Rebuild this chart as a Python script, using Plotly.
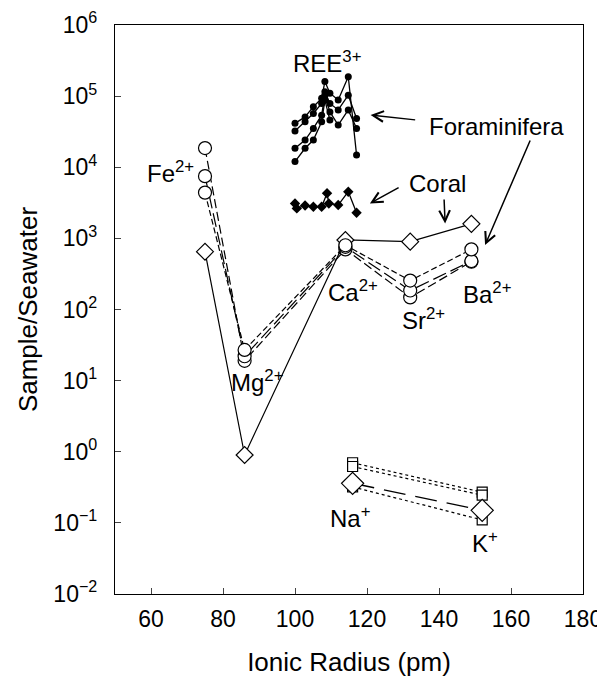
import math
import plotly.graph_objects as go

# ---------------- data ----------------
ion_x = {"Fe": 75, "Mg": 86, "Ca": 114, "Sr": 132, "Ba": 149, "Na": 116, "K": 152}

# Foraminifera (open circles), divalent cations Fe, Mg, Ca, Sr, Ba
div_ions = ["Fe", "Mg", "Ca", "Sr", "Ba"]
foram1 = [18600, 19, 700, 148, 470]
foram2 = [7500, 22, 760, 185, 480]
foram3 = [4400, 27, 800, 255, 700]
# Coral (open diamonds)
coral_div = [650, 0.9, 950, 900, 1600]

# Monovalent Na, K
mono_ions = ["Na", "K"]
foram_mono1 = [0.70, 0.27]
foram_mono2 = [0.62, 0.245]
foram_mono3 = [0.32, 0.11]
coral_mono = [0.36, 0.15]

# REE3+ (filled circles)
ree_x = [100.0, 102.8, 105.1, 107.4, 108.3, 109.7, 112.0, 114.8, 117.1]
ree1 = [41400, 51000, 71000, 93000, 160000, 110000, 88000, 187000, 14900]
ree2 = [32300, 43700, 57000, 79000, 115000, 79000, 64000, 103000, 48600]
ree3 = [18500, 24100, 35200, 54000, 103000, 60000, 39200, 64000, 35200]
ree4_x = [100.0, 102.8, 105.1, 107.4, 108.3, 109.7]
ree4 = [12000, 18500, 24100, 43700, 88000, 46100]

# Coral REE (filled diamonds)
coral_ree_x = [100.0, 100.5, 102.8, 105.1, 107.4, 108.9, 109.4, 112.0, 114.8, 117.1]
coral_ree = [3100, 2640, 2900, 2780, 2780, 4300, 3100, 2940, 4530, 2290]

# labels: (text, x, y)
labels = [
    ("REE<sup>3+</sup>", 109.0, 300000),
    ("Foraminifera", 156.0, 38000),
    ("Coral", 139.7, 6000),
    ("Fe<sup>2+</sup>", 65.3, 8600),
    ("Mg<sup>2+</sup>", 89.4, 9.8),
    ("Ca<sup>2+</sup>", 116.1, 181),
    ("Sr<sup>2+</sup>", 135.6, 73),
    ("Ba<sup>2+</sup>", 153.6, 170),
    ("Na<sup>+</sup>", 115.3, 0.12),
    ("K<sup>+</sup>", 152.8, 0.054),
]
# arrows: (tail x, tail y, head x, head y)
arrows = [
    (133.8, 46100, 121.0, 54200),
    (165.5, 25000, 152.8, 806),
    (129.2, 5320, 120.8, 3100),
    (141.4, 3690, 141.7, 1625),
]

x_ticks = [60, 80, 100, 120, 140, 160, 180]
y_ticks = [1e-2, 1e-1, 1, 10, 100, 1e3, 1e4, 1e5, 1e6]
y_ticktext = ["10<sup>\u22122</sup>", "10<sup>\u22121</sup>", "10<sup>0</sup>", "10<sup>1</sup>",
              "10<sup>2</sup>", "10<sup>3</sup>", "10<sup>4</sup>", "10<sup>5</sup>", "10<sup>6</sup>"]

FONT = "Liberation Sans, Arial, Helvetica, sans-serif"
fig = go.Figure()

def open_marker(symbol, size):
    return dict(symbol=symbol, size=size, color="white", line=dict(color="black", width=1.2))

dx = [ion_x[i] for i in div_ions]
mx = [ion_x[i] for i in mono_ions]

# coral divalent
fig.add_trace(go.Scatter(x=dx, y=coral_div, mode="lines+markers",
                         line=dict(color="black", width=1.2),
                         marker=open_marker("diamond", 13)))
for ys, dash in [(foram1, "9px,4px"), (foram2, "14px,5px"), (foram3, "6px,3px")]:
    fig.add_trace(go.Scatter(x=dx, y=ys, mode="lines+markers",
                             line=dict(color="black", width=1.2, dash=dash),
                             marker=open_marker("circle", 13)))

# monovalent
for ys in [foram_mono1, foram_mono2, foram_mono3]:
    fig.add_trace(go.Scatter(x=mx, y=ys, mode="lines+markers",
                             line=dict(color="black", width=1.2, dash="dot"),
                             marker=open_marker("square", 10)))
fig.add_trace(go.Scatter(x=mx, y=coral_mono, mode="lines+markers",
                         line=dict(color="black", width=1.4, dash="22px,10px"),
                         marker=open_marker("diamond", 17)))

# REE
for xs, ys in [(ree_x, ree1), (ree_x, ree2), (ree_x, ree3), (ree4_x, ree4)]:
    fig.add_trace(go.Scatter(x=xs, y=ys, mode="lines+markers",
                             line=dict(color="black", width=1.3),
                             marker=dict(symbol="circle", size=7, color="black")))
fig.add_trace(go.Scatter(x=coral_ree_x, y=coral_ree, mode="lines+markers",
                         line=dict(color="black", width=1.3),
                         marker=dict(symbol="diamond", size=8, color="black")))

for t, x, y in labels:
    fig.add_annotation(x=x, y=math.log10(y), text=t, showarrow=False,
                       font=dict(family=FONT, size=24, color="black"),
                       xanchor="center", yanchor="middle")
for tx, ty, hx, hy in arrows:
    fig.add_annotation(x=hx, y=math.log10(hy), ax=tx, ay=math.log10(ty),
                       xref="x", yref="y", axref="x", ayref="y",
                       text="", showarrow=True, arrowhead=5, arrowsize=1.4,
                       arrowwidth=1.5, arrowcolor="black", standoff=0)

# the page adds an 8px body margin, so the figure is sized to fit the window
fig.update_layout(
    width=597, height=674,
    margin=dict(l=107, r=22, t=17, b=88),
    paper_bgcolor="white", plot_bgcolor="white",
    showlegend=False,
    font=dict(family=FONT, size=23, color="black"),
)
fig.update_xaxes(range=[50, 180], tickvals=x_ticks, ticks="inside", ticklen=6,
                 showline=True, linecolor="black", linewidth=1.2, mirror=True,
                 showgrid=False, zeroline=False, automargin=False,
                 tickfont=dict(size=23), ticklabelstandoff=4,
                 title=dict(text="Ionic Radius (pm)", font=dict(size=26), standoff=22))
fig.update_yaxes(type="log", range=[-2, 6], tickvals=y_ticks, ticktext=y_ticktext,
                 ticks="inside", ticklen=6,
                 showline=True, linecolor="black", linewidth=1.2, mirror=True,
                 showgrid=False, zeroline=False, automargin=False,
                 tickfont=dict(size=23), ticklabelstandoff=12,
                 title=dict(text="Sample/Seawater", font=dict(size=26), standoff=8))

fig.write_html("out.html")
